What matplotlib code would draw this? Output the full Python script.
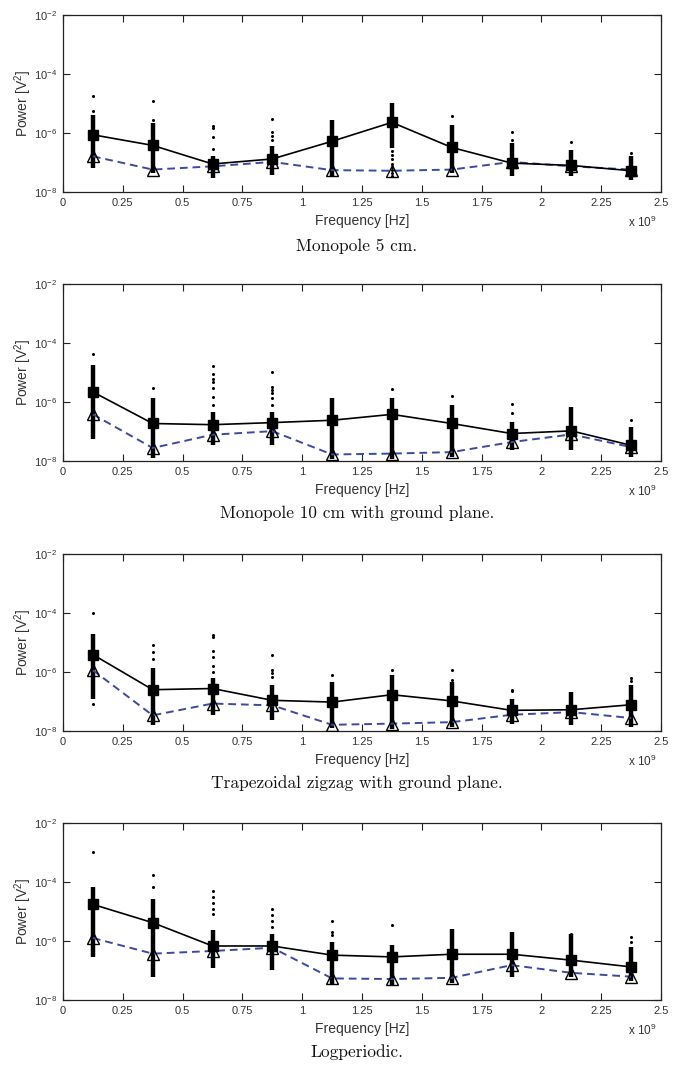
import numpy as np
import matplotlib.pyplot as plt

# frequency bins (GHz)
freq = [0.125, 0.375, 0.625, 0.875, 1.125, 1.375, 1.625, 1.875, 2.125, 2.375]

captions = ['Monopole 5 cm.', 'Monopole 10 cm with ground plane.',
            'Trapezoidal zigzag with ground plane.', 'Logperiodic.']

# all power values below are log10(P / V^2)
# --- Monopole 5 cm
mean_mono5 = [-6.06, -6.42, -7.05, -6.88, -6.28, -5.64, -6.49, -7.02, -7.10, -7.28]
med_mono5 = [-6.79, -7.24, -7.13, -6.98, -7.26, -7.28, -7.24, -6.98, -7.13, -7.24]
lo_mono5 = [-7.19, -7.36, -7.52, -7.41, -7.47, -6.50, -7.36, -7.47, -7.47, -7.58]
hi_mono5 = [-5.38, -5.66, -6.79, -6.45, -5.55, -4.99, -5.72, -6.34, -6.57, -6.79]
out_mono5 = [[-4.76, -5.25], [-4.93, -5.55], [-5.75, -5.83, -6.15, -6.53],
             [-5.53, -5.97, -6.09, -6.23], [],
             [-6.62, -6.75, -6.88, -7.05, -7.15, -7.25, -7.35, -7.45],
             [-5.44], [-5.98, -6.25], [-6.30], [-6.67]]

# --- Monopole 10 cm with ground plane
mean_mono10 = [-5.66, -6.73, -6.77, -6.70, -6.62, -6.42, -6.73, -7.07, -6.98, -7.47]
med_mono10 = [-6.42, -7.56, -7.11, -6.99, -7.78, -7.75, -7.70, -7.36, -7.10, -7.53]
lo_mono10 = [-7.24, -7.90, -7.47, -7.47, -7.92, -7.92, -7.87, -7.64, -7.64, -7.87]
hi_mono10 = [-4.75, -5.88, -6.34, -6.34, -5.88, -5.88, -6.11, -6.68, -6.17, -6.85]
out_mono10 = [[-4.36], [-5.54], [-4.79, -5.04, -5.21, -5.32, -5.54, -5.83, -6.11],
              [-4.98, -5.49, -5.60, -5.71, -5.88, -6.11], [], [-5.57], [-5.79],
              [-6.08, -6.39], [], [-6.62]]

# --- Trapezoidal zigzag with ground plane
mean_zigzag = [-5.41, -6.60, -6.56, -6.96, -7.02, -6.77, -6.98, -7.30, -7.28, -7.11]
med_zigzag = [-5.94, -7.47, -7.07, -7.13, -7.79, -7.75, -7.70, -7.45, -7.36, -7.56]
lo_zigzag = [-6.90, -7.81, -7.47, -7.64, -7.90, -7.92, -7.87, -7.75, -7.81, -7.87]
hi_zigzag = [-4.70, -5.88, -6.22, -6.45, -6.34, -6.11, -6.34, -6.90, -6.68, -6.45]
out_zigzag = [[-3.99, -7.07], [-5.07, -5.32, -5.57],
              [-4.75, -4.83, -5.30, -5.49, -5.79, -5.99],
              [-5.41, -5.94, -6.02, -6.17], [-6.11], [-5.92], [-5.92, -6.28],
              [-6.60, -6.65], [], [-6.22, -6.31]]

# --- Logperiodic
mean_logper = [-4.76, -5.38, -6.17, -6.17, -6.48, -6.54, -6.45, -6.45, -6.65, -6.88]
med_logper = [-5.90, -6.43, -6.34, -6.23, -7.27, -7.29, -7.25, -6.82, -7.08, -7.21]
lo_logper = [-6.54, -7.21, -6.93, -6.98, -7.50, -7.50, -7.44, -7.21, -7.21, -7.37]
hi_logper = [-4.17, -4.57, -5.64, -5.75, -6.03, -6.15, -5.58, -5.69, -5.75, -6.20]
out_logper = [[-2.99], [-3.78, -4.17], [-4.32, -4.51, -4.70, -4.91, -5.10],
              [-4.91, -5.13, -5.32, -5.52], [-5.32, -5.69, -5.80], [-5.47],
              [], [], [-5.78], [-5.86, -6.03]]

panels = [
    (mean_mono5, med_mono5, lo_mono5, hi_mono5, out_mono5),
    (mean_mono10, med_mono10, lo_mono10, hi_mono10, out_mono10),
    (mean_zigzag, med_zigzag, lo_zigzag, hi_zigzag, out_zigzag),
    (mean_logper, med_logper, lo_logper, hi_logper, out_logper),
]

xticks = [0, 0.25, 0.5, 0.75, 1, 1.25, 1.5, 1.75, 2, 2.25, 2.5]
xtick_labels = ['0', '0.25', '0.5', '0.75', '1', '1.25', '1.5', '1.75', '2', '2.25', '2.5']
yticks = [-8, -6, -4, -2]

plt.rcParams['font.family'] = ['Liberation Sans', 'DejaVu Sans']

fig = plt.figure(figsize=(6.84, 10.72), dpi=100)

# axes placement (fractions)
bottoms = [0.8209, 0.5700, 0.3181, 0.0672]
caption_y = [0.7705, 0.5215, 0.2696, 0.0187]

for i, (mean, med, lo, hi, outl) in enumerate(panels):
    ax = fig.add_axes([0.0921, bottoms[i], 0.8743, 0.1651])
    f = np.array(freq) * 1e9

    # dense bulk of the samples
    ax.vlines(f, 10.0 ** np.array(lo), 10.0 ** np.array(hi), color='black', lw=3.2, zorder=2)
    # scattered samples
    for fx, vals in zip(f, outl):
        if vals:
            ax.plot([fx] * len(vals), 10.0 ** np.array(vals), 'o', color='black',
                    ms=2.2, mew=0, zorder=2)

    ax.plot(f, 10.0 ** np.array(med), '--', color='#3c4a9c', lw=1.4, dashes=(4, 2.5),
            marker='^', ms=8, mfc='none', mec='black', mew=1.0, zorder=3)
    ax.plot(f, 10.0 ** np.array(mean), '-', color='black', lw=1.2,
            marker='s', ms=7, mfc='black', mec='black', zorder=4)

    ax.set_yscale('log')
    ax.set_ylim(1e-8, 1e-2)
    ax.set_xlim(0, 2.5e9)
    ax.set_xticks(np.array(xticks) * 1e9)
    ax.set_xticklabels(xtick_labels)
    ax.set_yticks([10.0 ** p for p in yticks])
    ax.set_yticklabels([r'$\mathregular{10^{%d}}$' % p for p in yticks])
    ax.minorticks_off()
    ax.tick_params(direction='in', top=True, right=True, length=5, width=0.8,
                   labelsize=8, pad=4, colors='#222222', labelcolor='#333333')
    for sp in ax.spines.values():
        sp.set_linewidth(0.9)
        sp.set_color('#222222')

    ax.text(0.5, -0.165, 'Frequency [Hz]', transform=ax.transAxes, ha='center',
            va='center', fontsize=10, color='#333333')
    ax.text(0.993, -0.17, r'x $\mathregular{10^{9}}$', transform=ax.transAxes,
            ha='right', va='center', fontsize=8.5, color='#333333')
    ax.text(-0.067, 0.5, r'Power [V$\mathregular{^2}$]', transform=ax.transAxes,
            rotation=90, ha='center', va='center', fontsize=10, color='#333333')

    fig.text(0.522, caption_y[i], captions[i], ha='center', va='center',
             family='cmr10', fontsize=12.5, color='#111111')

fig.savefig('out.png', dpi=100)
